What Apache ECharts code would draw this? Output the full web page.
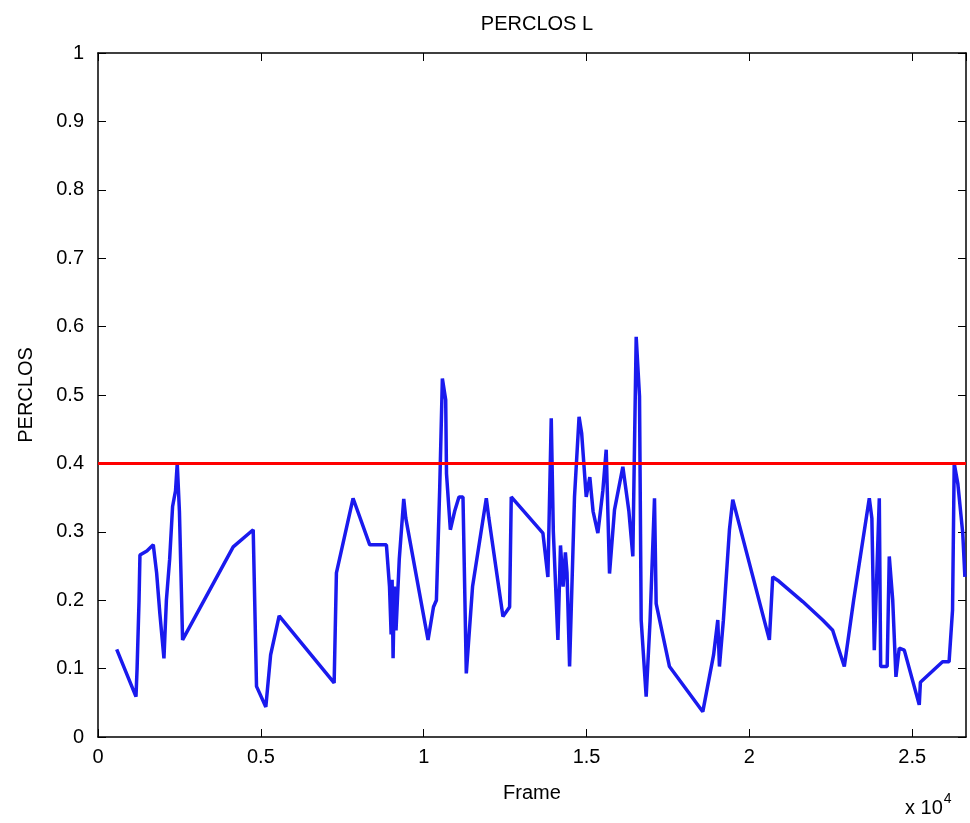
<!DOCTYPE html>
<html>
<head>
<meta charset="utf-8">
<script src="https://cdn.jsdelivr.net/npm/echarts@6/dist/echarts.min.js"></script>
<style>
  html, body { margin: 0; padding: 0; background: #fff; }
  #main { width: 970px; height: 823px; }
</style>
</head>
<body>
<div id="main"></div>
<script>
// frame numbers and PERCLOS values
var frames = [574, 1166, 1200, 1260, 1288, 1500, 1697, 1800, 1900, 2025, 2100, 2200, 2290, 2380, 2433, 2500, 2597,
  4151, 4765, 4867, 5153, 5300, 5562, 7250, 7320, 7831, 8343, 8855, 8950, 9000, 9030, 9060, 9100, 9150, 9250, 9387,
  9450, 10133, 10300, 10390, 10490, 10573, 10675, 10700, 10818, 10950, 11083, 11206, 11308, 11500, 11922, 12000,
  12433, 12638, 12688, 13660, 13813, 13916, 13980, 14120, 14200, 14280, 14350, 14400, 14479, 14630, 14770, 14850,
  14990, 15100, 15200, 15347, 15500, 15603, 15705, 15858, 16114, 16300, 16421, 16470, 16524, 16626, 16677, 16830,
  16950, 17086, 17137, 17546, 18569, 18900, 19029, 19080, 19200, 19387, 19489, 20613, 20716, 20900, 21636, 22249,
  22556, 22914, 23200, 23681, 23760, 23834, 23988, 24030, 24230, 24294, 24400, 24499, 24600, 24755, 25215, 25250,
  25930, 26130, 26237, 26288, 26400, 26550, 26616];
var perclos = [0.128, 0.059, 0.10, 0.20, 0.266, 0.272, 0.281, 0.24, 0.18, 0.115, 0.20, 0.26, 0.337, 0.36, 0.40, 0.33, 0.142,
  0.278, 0.303, 0.074, 0.044, 0.12, 0.177, 0.079, 0.24, 0.349, 0.281, 0.281, 0.22, 0.15, 0.23, 0.115, 0.22, 0.156, 0.26, 0.348,
  0.32, 0.142, 0.19, 0.2, 0.361, 0.524, 0.493, 0.385, 0.303, 0.33, 0.351, 0.351, 0.093, 0.22, 0.349, 0.32,
  0.176, 0.19, 0.351, 0.298, 0.234, 0.466, 0.30, 0.142, 0.28, 0.22, 0.27, 0.24, 0.103, 0.351, 0.468, 0.444,
  0.351, 0.38, 0.33, 0.298, 0.36, 0.42, 0.239, 0.332, 0.395, 0.33, 0.264, 0.42, 0.585, 0.498, 0.171, 0.059,
  0.17, 0.349, 0.195, 0.103, 0.037, 0.12, 0.171, 0.103, 0.17, 0.303, 0.347, 0.142, 0.234, 0.228, 0.198, 0.171,
  0.156, 0.103, 0.2, 0.349, 0.32, 0.127, 0.349, 0.103, 0.103, 0.264, 0.20, 0.088, 0.13, 0.127, 0.047, 0.08,
  0.11, 0.11, 0.186, 0.40, 0.37, 0.298, 0.234];
var threshold = 0.4;
var xMax = 26650;
var xTicks = [0, 0.5, 1, 1.5, 2, 2.5]; // x 10^4
var yTicks = [0, 0.1, 0.2, 0.3, 0.4, 0.5, 0.6, 0.7, 0.8, 0.9, 1];

var lineData = frames.map(function (f, i) { return [f, perclos[i]]; });
var fontFam = 'Arial, "Liberation Sans", sans-serif';

var chart = echarts.init(document.getElementById('main'), null, { renderer: 'canvas' });

var tickStyle = { show: true, inside: true, length: 8, lineStyle: { color: '#000', width: 1 } };
var lineStyle = { show: true, onZero: false, lineStyle: { color: '#000', width: 1.5 } };

var option = {
  animation: false,
  backgroundColor: '#fff',
  title: {
    text: 'PERCLOS L',
    left: 532,
    top: 9,
    textAlign: 'center',
    textStyle: { fontFamily: fontFam, fontSize: 20, fontWeight: 'normal', color: '#000' }
  },
  grid: { left: 98, right: 4, top: 53, bottom: 86, show: false },
  xAxis: [{
    type: 'value',
    min: 0,
    max: xMax,
    interval: 5000,
    name: 'Frame',
    nameLocation: 'middle',
    nameGap: 46,
    nameTextStyle: { fontFamily: fontFam, fontSize: 20, color: '#000' },
    axisLine: lineStyle,
    axisTick: tickStyle,
    splitLine: { show: false },
    axisLabel: {
      fontFamily: fontFam, fontSize: 20, color: '#000', margin: 10, showMaxLabel: false,
      formatter: function (v) { return xTicks.indexOf(v / 10000) >= 0 ? String(v / 10000) : ''; }
    }
  }, {
    type: 'value', position: 'top', min: 0, max: xMax, interval: 5000,
    axisLine: lineStyle,
    axisTick: tickStyle, axisLabel: { show: false }, splitLine: { show: false }
  }],
  yAxis: [{
    type: 'value',
    min: 0,
    max: 1,
    interval: 0.1,
    name: 'PERCLOS',
    nameLocation: 'middle',
    nameGap: 62,
    nameTextStyle: { fontFamily: fontFam, fontSize: 20, color: '#000' },
    axisLine: lineStyle,
    axisTick: tickStyle,
    splitLine: { show: false },
    axisLabel: {
      fontFamily: fontFam, fontSize: 20, color: '#000', margin: 14,
      formatter: function (v) {
        var r = Math.round(v * 10) / 10;
        return yTicks.indexOf(r) >= 0 ? String(r) : '';
      }
    }
  }, {
    type: 'value', position: 'right', min: 0, max: 1, interval: 0.1,
    axisLine: lineStyle,
    axisTick: tickStyle, axisLabel: { show: false }, splitLine: { show: false }
  }],
  graphic: [{
    type: 'text',
    left: 905,
    top: 792,
    style: {
      text: '{a|x 10}{b|4}',
      rich: {
        a: { fontFamily: fontFam, fontSize: 20, fill: '#000', verticalAlign: 'bottom' },
        b: { fontFamily: fontFam, fontSize: 14, fill: '#000', verticalAlign: 'top', padding: [0, 0, 12, 1] }
      }
    }
  }],
  series: [{
    type: 'line',
    data: lineData,
    showSymbol: false,
    lineStyle: { color: '#1a1aee', width: 3.5 },
    z: 2
  }, {
    type: 'line',
    data: [[0, threshold], [xMax, threshold]],
    showSymbol: false,
    lineStyle: { color: '#ff0000', width: 3 },
    z: 3
  }]
};

chart.setOption(option);
</script>
</body>
</html>
